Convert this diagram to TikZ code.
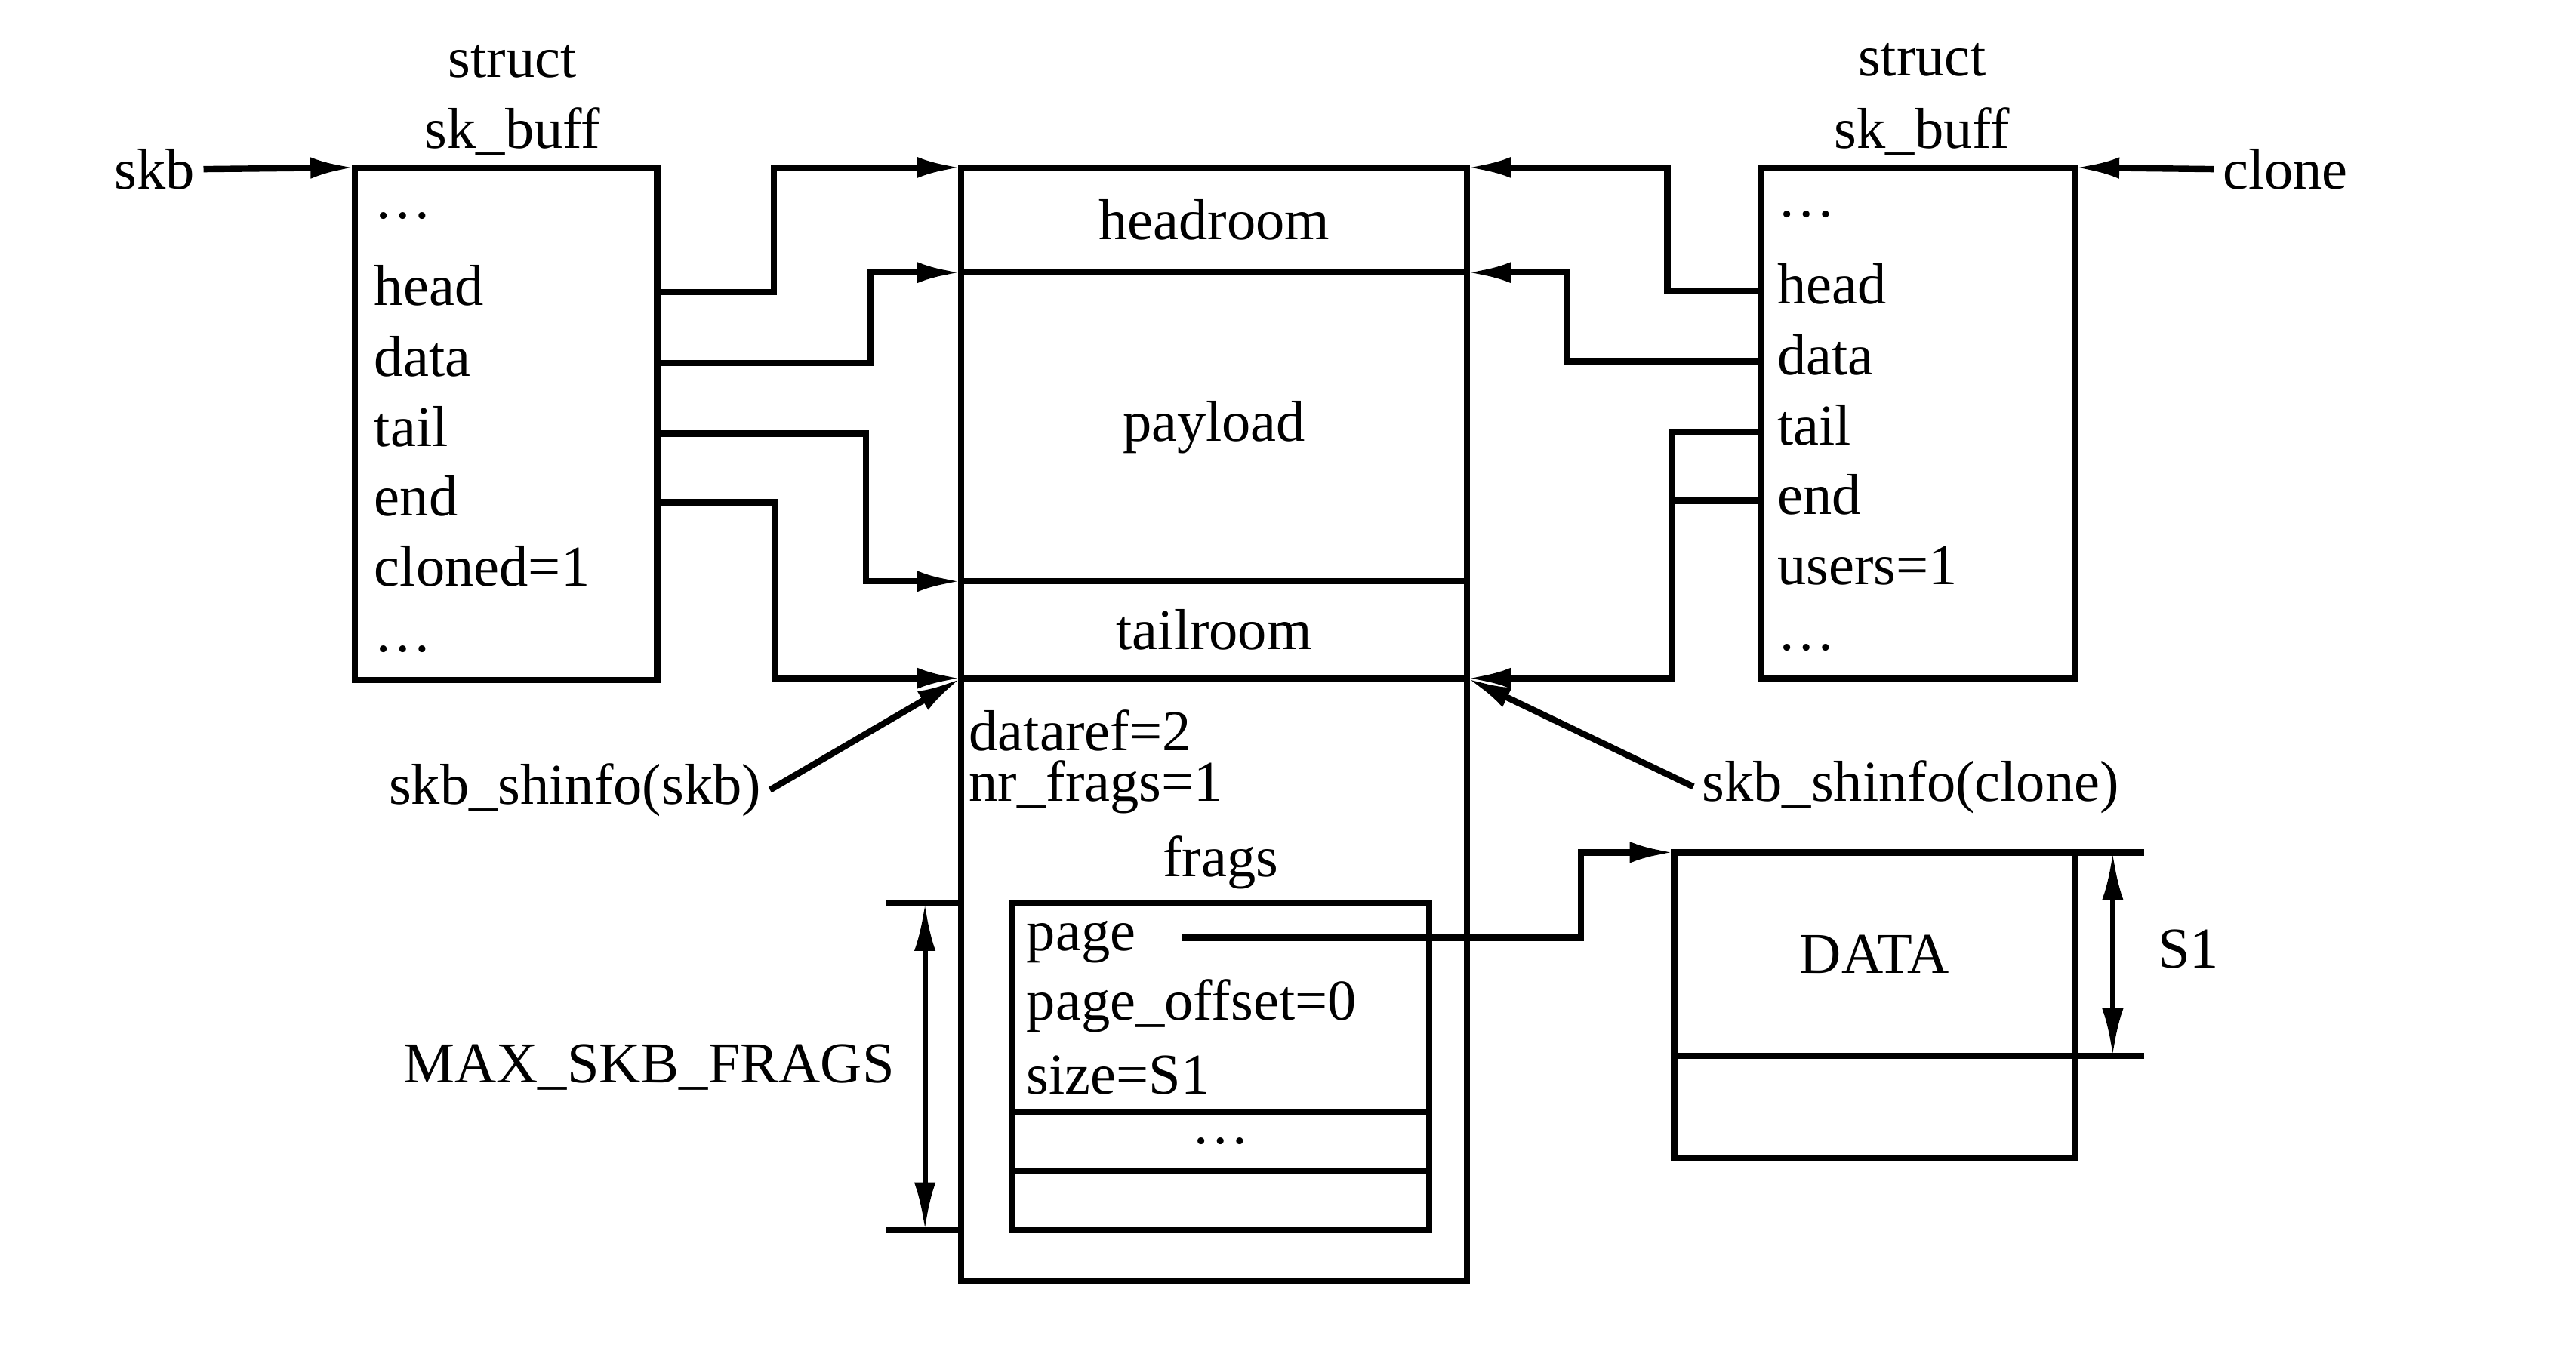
\documentclass[tikz,border=0pt]{standalone}
\usepackage{fontspec}
\setmainfont{Liberation Serif}
\usetikzlibrary{arrows.meta}

\begin{document}
\begin{tikzpicture}[
    font=\fontsize{10}{12}\selectfont,
    line width=1.1pt,
    ptr/.style={-{Latex[length=2.7mm,width=1.3mm]}},
    dim/.style={{Latex[length=2.9mm,width=1.3mm]}-{Latex[length=2.9mm,width=1.3mm]},line width=0.9pt},
    cell/.style={draw,inner sep=0pt,outer sep=0pt,anchor=north west},
    field/.style={anchor=base west,inner sep=0pt},
    lbl/.style={inner sep=1pt}
  ]
    \useasboundingbox (0,0) rectangle (15.68,-8.24);
    % the two sk_buff structs
    \node [cell,minimum width=1.84cm,minimum height=3.12cm] (lbox) at (2.16,-1.02) {};
    \node [cell,minimum width=1.91cm,minimum height=3.11cm] (rbox) at (10.72,-1.02) {};
    \node [anchor=base] (lstruct) at (3.12,-0.47) {struct};
    \node [anchor=base] (lskbuff) at (3.12,-0.905) {sk\_buff};
    \node [anchor=base] (rstruct) at (11.70,-0.46) {struct};
    \node [anchor=base] (rskbuff) at (11.70,-0.905) {sk\_buff};
    \foreach \name/\txt/\y in {ldotsa/\dots/1.33,lhead/head/1.86,ldata/data/2.29,ltail/tail/2.72,
        lend/end/3.14,lcloned/cloned=1/3.57,ldotsb/\dots/3.97}
        \node [field] (\name) at (2.26,-\y) {\txt};
    \foreach \name/\txt/\y in {rdotsa/\dots/1.32,rhead/head/1.85,rdata/data/2.28,rtail/tail/2.71,
        rend/end/3.13,rusers/users=1/3.56,rdotsb/\dots/3.96}
        \node [field] (\name) at (10.80,-\y) {\txt};
    \node [lbl] (skb) at (0.94,-1.03) {skb};
    \node [lbl] (clone) at (13.91,-1.03) {clone};

    % data buffer
    \node [cell,minimum width=3.08cm,minimum height=0.64cm] (headroom) at (5.85,-1.02) {headroom};
    \node [cell,minimum width=3.08cm,minimum height=1.88cm] (payload) at (headroom.south west) {payload};
    \node [cell,minimum width=3.08cm,minimum height=0.59cm] (tailroom) at (payload.south west) {tailroom};
    \node [cell,minimum width=3.08cm,minimum height=3.67cm] (shinfo) at (tailroom.south west) {};
    \node [field] (dataref) at (5.88,-4.57) {dataref=2};
    \node [field] (nrfrags) at (5.88,-4.88) {nr\_frags=1};
    \node [anchor=base,inner sep=0pt] (frags) at (7.43,-5.34) {frags};

    % frags array
    \node [cell,minimum width=2.54cm,minimum height=1.27cm] (fraga) at (6.16,-5.50) {};
    \node [cell,minimum width=2.54cm,minimum height=0.36cm] (fragb) at (fraga.south west) {\dots};
    \node [cell,minimum width=2.54cm,minimum height=0.36cm] (fragc) at (fragb.south west) {};
    \node [field] (page) at (6.23,-5.79) {page};
    \node [field] (pageoff) at (6.23,-6.21) {page\_offset=0};
    \node [field] (fragsize) at (6.23,-6.66) {size=S1};

    % page data
    \node [cell,minimum width=2.44cm,minimum height=1.24cm] (datatop) at (10.19,-5.19) {DATA};
    \node [cell,minimum width=2.44cm,minimum height=0.62cm] (databot) at (datatop.south west) {};

    \node [lbl] (lshlbl) at (3.50,-4.81) {skb\_shinfo(skb)};
    \node [lbl] (rshlbl) at (11.63,-4.79) {skb\_shinfo(clone)};
    \node (maxfrags) at (3.95,-6.50) {MAX\_SKB\_FRAGS};
    \node (s1) at (13.32,-5.78) {S1};

    % pointers
    \draw [ptr] (skb.east) -- (lbox.north west);
    \draw [ptr] (clone.west) -- (rbox.north east);
    \draw [ptr] (lbox.east |- lhead.mid) -- ++(0.71,0) |- (headroom.north west);
    \draw [ptr] (lbox.east |- ldata.mid) -- ++(1.30,0) |- (payload.north west);
    \draw [ptr] (lbox.east |- ltail.mid) -- ++(1.27,0) |- (tailroom.north west);
    \draw [ptr] (lbox.east |- lend.mid) -- ++(0.72,0) |- (shinfo.north west);
    \draw [ptr] (rbox.west |- rhead.mid) -- ++(-0.57,0) |- (headroom.north east);
    \draw [ptr] (rbox.west |- rdata.mid) -- ++(-1.18,0) |- (payload.north east);
    \draw [ptr] (rbox.west |- rtail.mid) -- ++(-0.54,0) |- (shinfo.north east);
    \draw (rbox.west |- rend.mid) -- ++(-0.54,0);
    \draw [ptr] (lshlbl.east) -- (shinfo.north west);
    \draw [ptr] (rshlbl.west) -- (shinfo.north east);
    \draw [ptr] ([xshift=2.6mm]page.mid east) -- ++(2.43,0) |- (datatop.north west);

    % sizes
    \draw (shinfo.west |- fraga.north) -- ++(-0.46,0);
    \draw (shinfo.west |- fragc.south) -- ++(-0.46,0);
    \draw [dim] ([xshift=-2.2mm]shinfo.west |- fraga.north) -- ([xshift=-2.2mm]shinfo.west |- fragc.south);
    \draw (datatop.north east) -- ++(0.42,0);
    \draw (datatop.south east) -- ++(0.42,0);
    \draw [dim] ([xshift=2.3mm]datatop.north east) -- ([xshift=2.3mm]datatop.south east);
\end{tikzpicture}
\end{document}
